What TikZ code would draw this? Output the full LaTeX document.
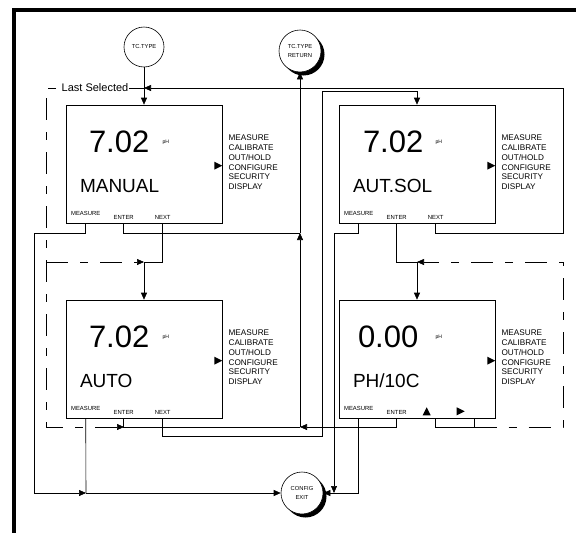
\documentclass[tikz,border=0pt]{standalone}
\usepackage{fontspec}
\setmainfont{Liberation Sans}
\usetikzlibrary{arrows.meta}
\usetikzlibrary{calc,shadows}

\tikzset{
  screen/.style={draw, minimum width=156pt, minimum height=118pt, inner sep=0pt},
  bignum/.style={font=\fontsize{31}{31}\selectfont, inner sep=0pt},
  modetext/.style={font=\fontsize{19}{19}\selectfont, inner sep=0pt},
  phunit/.style={font=\fontsize{5}{5}\selectfont, inner sep=0pt},
  menulist/.style={font=\fontsize{8.2}{9.8}\selectfont, align=left, inner sep=0pt},
  keytext/.style={font=\fontsize{5.9}{6}\selectfont, inner sep=0pt},
  circ/.style={circle, draw, fill=white, minimum size=42pt, inner sep=0pt, align=center, font=\fontsize{5.8}{8.5}\selectfont},
  shadowed/.style={drop shadow={shadow xshift=3.5pt, shadow yshift=-3.5pt, opacity=1, fill=black}},
  lastsel/.style={dash pattern=on 22pt off 12pt on 8pt off 12pt},
}

\begin{document}
\begin{tikzpicture}[x=1pt, y=-1pt, >={Triangle[length=7pt,width=6pt]}, line width=0.6pt]
\useasboundingbox (0,0) rectangle (576,533);

% Rahmen
\draw[line width=3.6pt] (14,545) -- (14,10) -- (590,10);

% Anzeigen
\foreach \name/\px/\py/\num/\nx/\mode in {manual/144/164/7.02/23/MANUAL, autsol/417/164/7.02/24/AUT.SOL, auto/144/359/7.02/23/AUTO, phten/417/359/0.00/19/{PH/10C}}{
  \node[screen] (\name) at (\px,\py) {};
  \node[bignum, anchor=base west] (\name-num) at ($(\name.north west)+(\nx,48)$) {\num};
  \node[phunit] (\name-ph) at ($(\name.north west)+(100,38)$) {pH};
  \node[modetext, anchor=base west] (\name-mode) at ($(\name.north west)+(14,88)$) {\mode};
  \node[menulist, anchor=north west] (\name-menu) at ($(\name.north east)+(6,30)$) {MEASURE\\CALIBRATE\\OUT/HOLD\\CONFIGURE\\SECURITY\\DISPLAY};
  \fill ($(\name.north east)+(0,61)$) -- ++(-8,-4) -- ++(0,8) -- cycle;
  \node[keytext] (\name-mt) at ($(\name.south west)+(20,-10)$) {MEASURE};
  \node[keytext] (\name-et) at ($(\name.south west)+(58,-6)$) {ENTER};
  \coordinate (\name-m) at ($(\name.south west)+(20,0)$);
  \coordinate (\name-e) at ($(\name.south west)+(58,0)$);
  \coordinate (\name-n) at ($(\name.south west)+(97,0)$);
}
\foreach \name in {manual,autsol,auto}
  \node[keytext] (\name-nt) at ($(\name.south west)+(97,-6)$) {NEXT};

% Tasten PH/10C
\fill ($(phten.south west)+(84,-3)$) -- ++(8,0) -- ++(-4,-8) -- cycle;
\fill ($(phten.south west)+(118,-3)$) -- ++(0,-8) -- ++(8,4) -- cycle;
\coordinate (phten-r) at ($(phten.south west)+(136,0)$);

% Kreise
\node[circ, minimum size=40pt] (tctype) at (144,47) {TC.TYPE};
\node[circ, shadowed] (return) at (300,51) {TC.TYPE\\RETURN};
\node[circ, shadowed] (config) at (302,493) {CONFIG\\EXIT};

% Knoten der Leitungen
\coordinate (ls) at (144,88);
\coordinate (tr) at (563,88);
\coordinate (dl) at (46,88);
\coordinate (upj) at (300,233);
\coordinate (enj) at (300,427);
\coordinate (lj) at (144,262);
\coordinate (dm) at (46,262);
\coordinate (rj) at (417,262);
\coordinate (rd) at (563,262);
\coordinate (aej) at (124,427);
\coordinate (mc) at (34,493);
\coordinate (mb) at (86,493);
\coordinate (cm) at (334,493);
\coordinate (nx1) at (322,436);
\coordinate (nx2) at (322,91);

% Leitungen
\draw[->] (tctype) -- (manual);
\draw[->] (autsol-n) -- ++(0,10) -| (tr) -- (ls);
\draw (manual-e) |- (upj);
\draw[->] (enj) -- (upj);
\draw[->] (upj) -- (return);
\draw[->] (manual-n) |- (lj) -- (auto);
\draw[->] (manual-m) -- ++(0,10) -| (mc) -- (mb);
\draw (auto-m) -- (mb);
\draw[->] (mb) -- (config);
\draw (auto-e) |- (enj);
\draw[->] (phten-e) |- (enj);
\draw[->] (auto-n) |- (nx1) -- (nx2) -| (autsol.north);
\draw[->] (autsol-m) -- ++(0,10) -| (cm);
\draw[->] (phten-m) |- (config.east);
\draw[->] (autsol-e) |- (rj) -- (phten);
\draw (phten-n) -- ++(0,9) -| (phten-r);

% zuletzt gewaehlt
\draw[lastsel,->] (ls) -- node[fill=white, inner sep=1pt, font=\fontsize{11}{11}\selectfont] (lastlbl) {Last Selected} (dl) |- (aej);
\draw[lastsel,->] (dm) -- (lj);
\draw[lastsel,->] ($(phten-r)+(0,9)$) -| (rd) -- (rj);

\end{tikzpicture}
\end{document}
